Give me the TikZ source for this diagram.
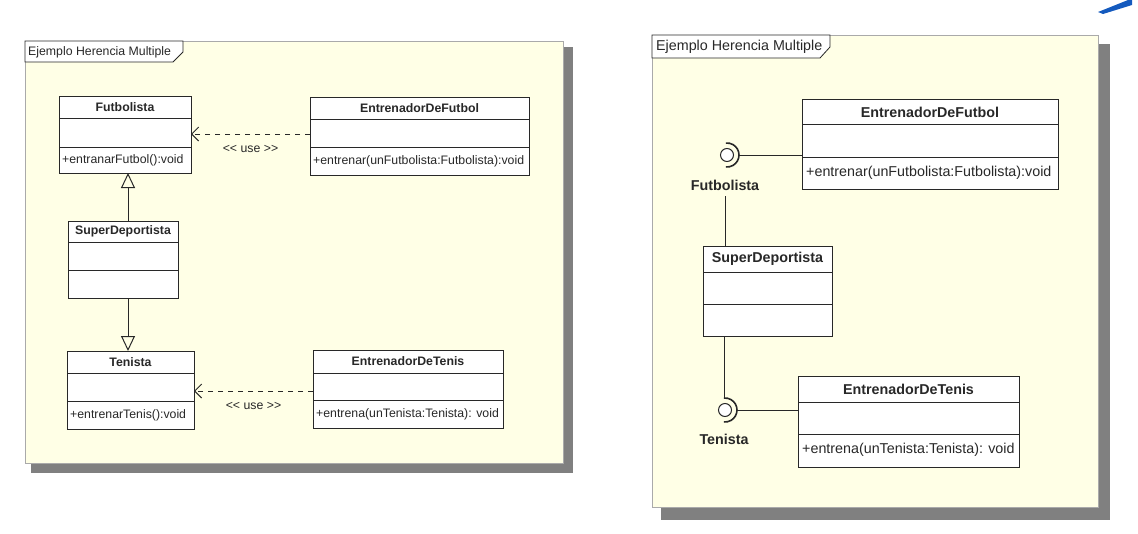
\documentclass[tikz,border=0pt]{standalone}
\usepackage{fontspec}
\setmainfont{Liberation Sans}
\usepackage{tikz}
\usetikzlibrary{arrows.meta}

\definecolor{framebg}{RGB}{255,255,230}
\definecolor{frameedge}{RGB}{170,170,170}
\definecolor{shadowgray}{RGB}{128,128,128}
\definecolor{umlink}{RGB}{40,40,40}
\definecolor{logoblue}{RGB}{20,90,190}

\tikzset{
  umlbox/.style={draw=umlink,fill=white,line width=1pt,inner sep=0pt,outer sep=0pt},
  umlline/.style={draw=umlink,line width=1pt},
  lname/.style={font=\bfseries\fontsize{12.3}{14}\selectfont,text=umlink,inner sep=0pt},
  lop/.style={font=\fontsize{12.3}{14}\selectfont,text=umlink,inner sep=0pt,anchor=west},
  rname/.style={font=\bfseries\fontsize{14.3}{16}\selectfont,text=umlink,inner sep=0pt},
  rop/.style={font=\fontsize{14.3}{16}\selectfont,text=umlink,inner sep=0pt,anchor=west},
  generalize/.style={umlline,-{Triangle[open,length=15pt,width=14pt]}},
  usedep/.style={umlline,dash pattern=on 5pt off 5pt,-{Straight Barb[length=7pt,width=14pt]}},
  lollipop/.style={circle,draw=umlink,fill=white,line width=1pt,minimum size=13pt,inner sep=0pt},
  socket/.style={draw=umlink,line width=1.6pt}
}

\begin{document}
\begin{tikzpicture}[x=1pt,y=-1pt]
  \useasboundingbox
    (0,0)
    rectangle
    (1138,533);

  % left frame
  \fill[shadowgray]
    (31,47)
    rectangle
    (573,473);
  \filldraw[fill=framebg,draw=frameedge,line width=1pt]
    (25,41)
    rectangle
    (563,463);
  \filldraw[fill=white,draw=umlink,line width=0.8pt]
    (25,41) -- (183,41) -- (183,52) -- (173,62) -- (25,62) -- cycle;
  \node[lop] (ltab) at (28,52) {Ejemplo Herencia Multiple};

  % left classes
  \node[umlbox,minimum width=132pt,minimum height=77pt] (fut) at (125,134.5) {};
  \draw[umlline]
    (fut.west |- 0,118) -- (fut.east |- 0,118);
  \draw[umlline]
    (fut.west |- 0,147) -- (fut.east |- 0,147);
  \node[lname] (futname) at (fut.center |- 0,107) {Futbolista};
  \node[lop] (futop) at ([xshift=3pt]fut.west |- 0,160) {+entranarFutbol():void};

  \node[umlbox,minimum width=219pt,minimum height=78pt] (entf) at (419.5,136) {};
  \draw[umlline]
    (entf.west |- 0,119) -- (entf.east |- 0,119);
  \draw[umlline]
    (entf.west |- 0,147) -- (entf.east |- 0,147);
  \node[lname] (entfname) at (entf.center |- 0,108) {EntrenadorDeFutbol};
  \node[lop] (entfop) at ([xshift=3pt]entf.west |- 0,161) {+entrenar(unFutbolista:Futbolista):void};

  \node[umlbox,minimum width=110pt,minimum height=77pt] (sup) at (123,259.5) {};
  \draw[umlline]
    (sup.west |- 0,242) -- (sup.east |- 0,242);
  \draw[umlline]
    (sup.west |- 0,270) -- (sup.east |- 0,270);
  \node[lname] (supname) at (sup.center |- 0,231) {SuperDeportista};

  \node[umlbox,minimum width=127pt,minimum height=78pt] (ten) at (130.5,390) {};
  \draw[umlline]
    (ten.west |- 0,373) -- (ten.east |- 0,373);
  \draw[umlline]
    (ten.west |- 0,401) -- (ten.east |- 0,401);
  \node[lname] (tenname) at (ten.center |- 0,362) {Tenista};
  \node[lop] (tenop) at ([xshift=3pt]ten.west |- 0,415) {+entrenarTenis():void};

  \node[umlbox,minimum width=190pt,minimum height=78pt] (entt) at (408,389) {};
  \draw[umlline]
    (entt.west |- 0,373) -- (entt.east |- 0,373);
  \draw[umlline]
    (entt.west |- 0,400) -- (entt.east |- 0,400);
  \node[lname] (enttname) at (entt.center |- 0,361) {EntrenadorDeTenis};
  \node[lop] (enttop) at ([xshift=3pt]entt.west |- 0,414) {+entrena(unTenista:Tenista): void};

  % left connectors
  \coordinate (genx) at (128,0);
  \draw[generalize]
    (sup.north -| genx)
    --
    (fut.south -| genx);
  \draw[generalize]
    (sup.south -| genx)
    --
    (ten.north -| genx);
  \coordinate (usefut) at (0,134);
  \coordinate (useten) at (0,391);
  \draw[usedep]
    (entf.west |- usefut)
    -- node[lop,anchor=north,yshift=-11pt] {{<}\kern0pt{<} use {>}\kern0pt{>}}
    (fut.east |- usefut);
  \draw[usedep]
    (entt.west |- useten)
    -- node[lop,anchor=north,yshift=-11pt] {{<}\kern0pt{<} use {>}\kern0pt{>}}
    (ten.east |- useten);

  % right frame
  \fill[shadowgray]
    (661,44)
    rectangle
    (1110,520);
  \filldraw[fill=framebg,draw=frameedge,line width=1pt]
    (652,35)
    rectangle
    (1098,507);
  \filldraw[fill=white,draw=umlink,line width=0.8pt]
    (652,35) -- (830,35) -- (830,47) -- (820,58) -- (652,58) -- cycle;
  \node[rop] (rtab) at (656,47) {Ejemplo Herencia Multiple};

  % right classes
  \node[umlbox,minimum width=256pt,minimum height=90pt] (rentf) at (930,144) {};
  \draw[umlline]
    (rentf.west |- 0,124) -- (rentf.east |- 0,124);
  \draw[umlline]
    (rentf.west |- 0,157) -- (rentf.east |- 0,157);
  \node[rname] (rentfname) at (rentf.center |- 0,112) {EntrenadorDeFutbol};
  \node[rop] (rentfop) at ([xshift=4pt]rentf.west |- 0,173) {+entrenar(unFutbolista:Futbolista):void};

  \node[umlbox,minimum width=129pt,minimum height=90pt] (rsup) at (767.5,291) {};
  \draw[umlline]
    (rsup.west |- 0,272) -- (rsup.east |- 0,272);
  \draw[umlline]
    (rsup.west |- 0,304) -- (rsup.east |- 0,304);
  \node[rname] (rsupname) at (rsup.center |- 0,259) {SuperDeportista};

  \node[umlbox,minimum width=221pt,minimum height=91pt] (rentt) at (908.5,421.5) {};
  \draw[umlline]
    (rentt.west |- 0,402) -- (rentt.east |- 0,402);
  \draw[umlline]
    (rentt.west |- 0,434) -- (rentt.east |- 0,434);
  \node[rname] (renttname) at (rentt.center |- 0,389) {EntrenadorDeTenis};
  \node[rop] (renttop) at ([xshift=4pt]rentt.west |- 0,450) {+entrena(unTenista:Tenista): void};

  % right interfaces
  \node[lollipop] (ifut) at (727,155) {};
  \draw[socket]
    ([xshift=12pt]ifut.center)
    arc[start angle=0,end angle=95,radius=12pt];
  \draw[socket]
    ([xshift=12pt]ifut.center)
    arc[start angle=0,end angle=-95,radius=12pt];
  \node[rname] (lfut) at (725,185) {Futbolista};
  \draw[umlline]
    ([xshift=12pt]ifut.center)
    --
    (rentf.west |- ifut.center);
  \draw[umlline]
    ([yshift=-6pt]lfut.south)
    --
    (lfut.south |- rsup.north);

  \node[lollipop] (iten) at (725,410) {};
  \draw[socket]
    ([xshift=12pt]iten.center)
    arc[start angle=0,end angle=95,radius=12pt];
  \draw[socket]
    ([xshift=12pt]iten.center)
    arc[start angle=0,end angle=-95,radius=12pt];
  \node[rname] (lten) at (724,439) {Tenista};
  \draw[umlline]
    ([xshift=12pt]iten.center)
    --
    (rentt.west |- iten.center);
  \draw[umlline]
    ([xshift=-1pt]iten.center |- rsup.south)
    --
    ([xshift=-1pt,yshift=12pt]iten.center);

  % corner mark
  \fill[logoblue]
    (1098,12) -- (1128,0) -- (1132,0) -- (1132,5) -- (1103,14) -- cycle;
\end{tikzpicture}
\end{document}
